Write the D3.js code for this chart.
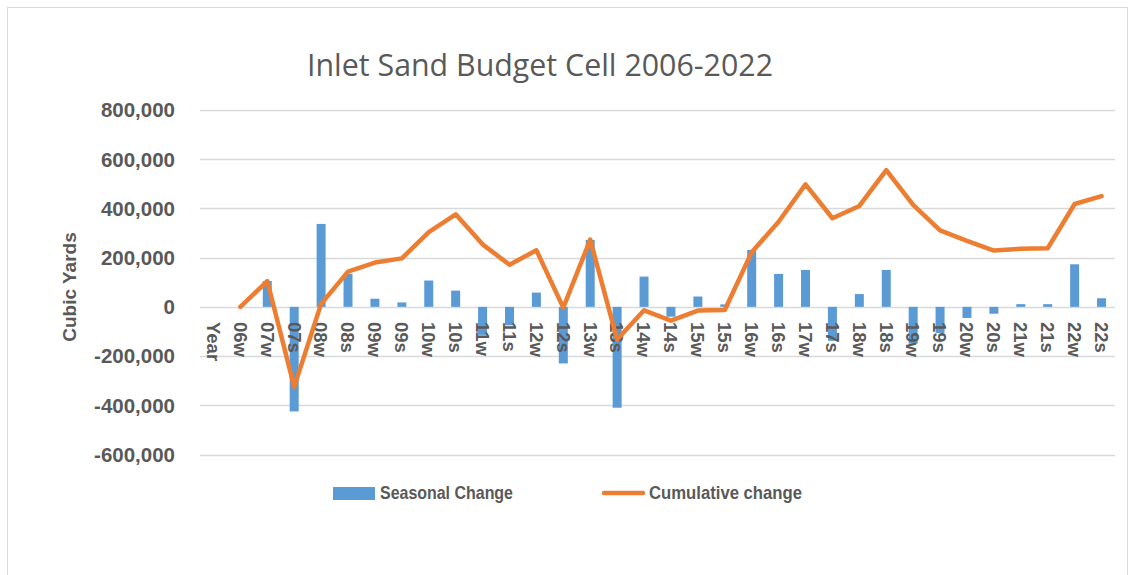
<!DOCTYPE html>
<html>
<head>
<meta charset="utf-8">
<script src="https://cdn.jsdelivr.net/npm/d3@7"></script>
<style>
  body { margin: 0; background: #fff; }
  svg text { fill: #595959; }
</style>
</head>
<body>
<svg id="viz" width="1135" height="575"></svg>
<script>
// categories (x axis)
var periods = ["Year","06w","07w","07s","08w","08s","09w","09s","10w","10s","11w","11s",
  "12w","12s","13w","13s","14w","14s","15w","15s","16w","16s","17w","17s",
  "18w","18s","19w","19s","20w","20s","21w","21s","22w","22s"];

// seasonal change (bars), cubic yards
var seasonal = [null,0,105000,-425000,337000,134000,33000,18000,107000,66000,-114000,-75000,
  58000,-230000,272000,-410000,123000,-40000,42000,10000,231000,134000,150000,-138000,
  52000,150000,-150000,-106000,-45000,-28000,11000,11000,173000,35000];

// cumulative change (line)
var cumulative = [null,0,105000,-325000,12000,143000,180000,197000,304000,376000,254000,171000,
  230000,-3000,273000,-133000,-14000,-56000,-15000,-13000,222000,346000,498000,360000,
  410000,556000,414000,311000,268000,229000,236000,238000,418000,450000];

var yTicks = [-600000,-400000,-200000,0,200000,400000,600000,800000];

// plot area (window.top is reserved, so use prefixed names)
var plotL = 200, plotR = 1115, plotT = 110, plotB = 454.5;
var svg = d3.select("#viz");
var font = "'Liberation Sans', Arial, sans-serif";

// outer chart border
svg.append("rect")
  .attr("x", 7.5).attr("y", 7.5).attr("width", 1120).attr("height", 580)
  .attr("fill", "#fff").attr("stroke", "#d9d9d9");

var x = d3.scaleBand().domain(periods).range([plotL, plotR]);
var y = d3.scaleLinear().domain([-600000, 800000]).range([plotB, plotT]);

// gridlines
svg.append("g").selectAll("line")
  .data(yTicks)
  .enter().append("line")
    .attr("x1", plotL).attr("x2", plotR)
    .attr("y1", d => Math.round(y(d)) + 0.5).attr("y2", d => Math.round(y(d)) + 0.5)
    .attr("stroke", "#d9d9d9").attr("stroke-width", 1.3);

// y tick labels (plain hyphen for negatives, like the original)
var fmt = d3.format(",");
svg.append("g").selectAll("text")
  .data(yTicks)
  .enter().append("text")
    .attr("x", 175).attr("y", d => y(d))
    .attr("dy", "0.36em")
    .attr("text-anchor", "end")
    .style("font-family", font).style("font-weight", "bold").style("font-size", "20.5px")
    .text(d => fmt(d).replace("\u2212", "-"));

// axis title
svg.append("text")
  .attr("transform", "translate(76,287) rotate(-90)")
  .attr("text-anchor", "middle")
  .style("font-family", font).style("font-weight", "bold").style("font-size", "19px")
  .text("Cubic Yards");

// title
svg.append("text")
  .attr("x", 540).attr("y", 76)
  .attr("text-anchor", "middle")
  .attr("textLength", 466).attr("lengthAdjust", "spacingAndGlyphs")
  .style("font-family", "'Open Sans', 'Liberation Sans', sans-serif").style("font-size", "31px")
  .text("Inlet Sand Budget Cell 2006-2022");

// bars
var barW = 9;
svg.append("g").selectAll("rect")
  .data(periods.map((p, i) => ({p: p, v: seasonal[i]})).filter(d => d.v !== null && d.v !== 0))
  .enter().append("rect")
    .attr("x", d => x(d.p) + x.bandwidth() / 2 - barW / 2)
    .attr("y", d => y(Math.max(0, d.v)))
    .attr("width", barW)
    .attr("height", d => Math.abs(y(d.v) - y(0)))
    .attr("fill", "#5b9bd5");

// category labels, rotated
svg.append("g").selectAll("text")
  .data(periods)
  .enter().append("text")
    .attr("transform", d => "translate(" + (x(d) + x.bandwidth() / 2) + ",322) rotate(90)")
    .attr("dy", "0.36em")
    .style("font-family", font).style("font-weight", "bold").style("font-size", "18.5px")
    .text(d => d);

// cumulative line
var line = d3.line()
  .defined(d => d.v !== null)
  .x(d => x(d.p) + x.bandwidth() / 2)
  .y(d => y(d.v));
svg.append("path")
  .datum(periods.map((p, i) => ({p: p, v: cumulative[i]})))
  .attr("d", line)
  .attr("fill", "none")
  .attr("stroke", "#ed7d31")
  .attr("stroke-width", 4.5)
  .attr("stroke-linejoin", "round")
  .attr("stroke-linecap", "round");

// legend
var lg = svg.append("g")
  .style("font-family", "'Liberation Sans Narrow', 'Liberation Sans', sans-serif")
  .style("font-weight", "bold").style("font-size", "19px");
lg.append("rect").attr("x", 333).attr("y", 487).attr("width", 42).attr("height", 13).attr("fill", "#5b9bd5");
lg.append("text").attr("x", 380).attr("y", 499)
  .attr("textLength", 133).attr("lengthAdjust", "spacingAndGlyphs")
  .text("Seasonal Change");
lg.append("line").attr("x1", 604).attr("x2", 643).attr("y1", 493).attr("y2", 493)
  .attr("stroke", "#ed7d31").attr("stroke-width", 4.5).attr("stroke-linecap", "round");
lg.append("text").attr("x", 649).attr("y", 499)
  .attr("textLength", 153).attr("lengthAdjust", "spacingAndGlyphs")
  .text("Cumulative change");
</script>
</body>
</html>
